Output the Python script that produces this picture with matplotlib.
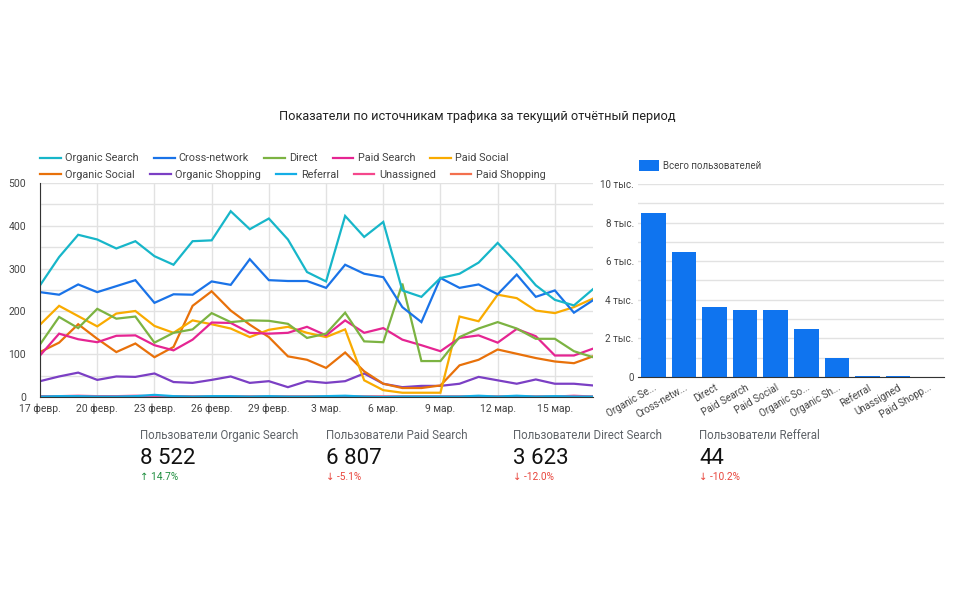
import numpy as np
import matplotlib
matplotlib.use("Agg")
from matplotlib import pyplot as plt
from matplotlib.ticker import MultipleLocator

plt.rcParams['font.family'] = ['Roboto', 'DejaVu Sans']

# ---- data ----
days = np.arange(30)  # 17 Feb .. 17 Mar
xtick_pos = [0, 3, 6, 9, 12, 15, 18, 21, 24, 27]
xtick_lbl = ['17 февр.', '20 февр.', '23 февр.', '26 февр.', '29 февр.',
             '3 мар.', '6 мар.', '9 мар.', '12 мар.', '15 мар.']

organic_search = [261, 327, 379, 368, 347, 364, 329, 309, 364, 366, 434, 392, 417, 368, 292,
                  270, 423, 374, 409, 249, 234, 278, 288, 314, 360, 313, 261, 227, 214, 252]
cross_network = [245, 239, 263, 245, 259, 273, 220, 240, 239, 270, 262, 322, 273, 271, 271,
                 255, 309, 288, 280, 210, 175, 278, 255, 263, 240, 286, 234, 249, 197, 226]
direct = [123, 187, 161, 206, 183, 188, 127, 150, 158, 196, 175, 179, 178, 171, 138,
          148, 197, 130, 128, 265, 84, 84, 140, 160, 175, 160, 136, 136, 107, 93]
paid_search = [97, 148, 135, 128, 143, 144, 121, 109, 134, 174, 173, 150, 148, 150, 164,
               144, 179, 150, 161, 134, 121, 107, 138, 144, 127, 159, 142, 97, 97, 113]
paid_social = [169, 213, 189, 165, 195, 201, 166, 150, 179, 170, 160, 140, 157, 164, 150,
               140, 158, 39, 16, 10, 10, 10, 188, 177, 239, 231, 202, 196, 210, 230]
organic_social = [105, 127, 170, 136, 105, 125, 93, 117, 213, 247, 202, 169, 140, 95, 87,
                  68, 104, 60, 31, 21, 21, 27, 74, 87, 111, 101, 91, 83, 79, 95]
organic_shopping = [37, 48, 57, 40, 48, 47, 55, 35, 33, 40, 48, 33, 37, 23, 37,
                    33, 37, 55, 31, 23, 26, 26, 31, 47, 39, 31, 41, 31, 31, 27]
referral = [1, 2, 2, 1, 1, 2, 5, 2, 1, 2, 2, 1, 2, 1, 1,
            2, 3, 1, 0, 1, 1, 1, 1, 3, 1, 3, 1, 2, 1, 1]
unassigned = [2, 2, 3, 2, 2, 3, 2, 2, 1, 1, 1, 1, 1, 1, 1,
              1, 1, 1, 1, 1, 1, 1, 1, 1, 1, 1, 1, 1, 3, 1]
paid_shopping = [1, 1, 2, 1, 1, 2, 1, 1, 1, 1, 1, 1, 1, 1, 1,
                 1, 1, 1, 1, 1, 1, 1, 1, 1, 1, 1, 1, 1, 1, 1]

bar_cats = ['Organic Se...', 'Cross-netw...', 'Direct', 'Paid Search', 'Paid Social',
            'Organic So...', 'Organic Sh...', 'Referral', 'Unassigned', 'Paid Shopp...']
bar_vals = [8522, 6500, 3623, 3450, 3450, 2500, 1000, 44, 30, 20]
bar_ticks = [0, 2000, 4000, 6000, 8000, 10000]
bar_tick_lbl = ['0', '2 тыс.', '4 тыс.', '6 тыс.', '8 тыс.', '10 тыс.']

kpi_titles = ['Пользователи Organic Search', 'Пользователи Paid Search',
              'Пользователи Direct Search', 'Пользователи Refferal']
kpi_values = ['8 522', '6 807', '3 623', '44']
kpi_delta = ['14.7%', '-5.1%', '-12.0%', '-10.2%']

series = [
    ('Organic Search', organic_search, '#17b6c9'),
    ('Cross-network', cross_network, '#1a73e8'),
    ('Direct', direct, '#7cb342'),
    ('Paid Search', paid_search, '#e52592'),
    ('Paid Social', paid_social, '#f9ab00'),
    ('Organic Social', organic_social, '#e8710a'),
    ('Organic Shopping', organic_shopping, '#7b3fc4'),
    ('Referral', referral, '#14aee6'),
    ('Unassigned', unassigned, '#f5478c'),
    ('Paid Shopping', paid_shopping, '#f3704e'),
]

grid_c = '#e2e2e2'
txt_c = '#444444'

fig = plt.figure(figsize=(9.58, 5.98), dpi=100)
fig.patch.set_facecolor('white')

fig.text(0.498, 0.806, 'Показатели по источникам трафика за текущий отчётный период',
         ha='center', va='center', fontsize=9.2, color='#222222')

# ---- line chart ----
ax = fig.add_axes([0.0418, 0.3361, 0.5772, 0.3579])
handles = {}
for name, vals, col in reversed(series):
    h, = ax.plot(days, vals, color=col, lw=1.6, label=name, solid_joinstyle='miter')
    handles[name] = h
ax.set_xlim(0, 29)
ax.set_ylim(0, 500)
ax.set_xticks(xtick_pos)
ax.set_xticklabels(xtick_lbl)
ax.yaxis.set_major_locator(MultipleLocator(100))
ax.yaxis.set_minor_locator(MultipleLocator(50))
ax.grid(True, which='both', axis='y', color=grid_c, lw=1)
ax.grid(True, which='major', axis='x', color=grid_c, lw=1)
ax.set_axisbelow(True)
for s in ['top', 'right']:
    ax.spines[s].set_visible(False)
ax.spines['left'].set_color('#333333')
ax.spines['bottom'].set_color('#333333')
ax.tick_params(which='both', length=0, labelsize=7.5, colors=txt_c)
ax.tick_params(axis='y', pad=10)
ax.tick_params(axis='x', pad=5)

# legend flows row by row, like the dashboard
rows = [['Organic Search', 'Cross-network', 'Direct', 'Paid Search', 'Paid Social'],
        ['Organic Social', 'Organic Shopping', 'Referral', 'Unassigned', 'Paid Shopping']]
for r, yy in zip(rows, [0.735, 0.708]):
    leg = fig.legend([handles[n] for n in r], r, ncol=5, loc='center left',
                     bbox_to_anchor=(0.042, yy), frameon=False, fontsize=7.8,
                     handlelength=1.9, handletextpad=0.4, columnspacing=1.4,
                     borderaxespad=0, borderpad=0)
    for t in leg.get_texts():
        t.set_color(txt_c)

# ---- bar chart ----
bx = fig.add_axes([0.666, 0.3696, 0.3194, 0.3227])
bars = bx.bar(range(len(bar_vals)), bar_vals, width=0.8, color='#0f74ef',
              label='Всего пользователей')
bx.set_xlim(-0.5, len(bar_vals) - 0.5)
bx.set_ylim(0, 10000)
bx.set_yticks(bar_ticks)
bx.set_yticklabels(bar_tick_lbl)
bx.yaxis.set_minor_locator(MultipleLocator(1000))
bx.grid(True, which='both', axis='y', color=grid_c, lw=1)
bx.set_axisbelow(True)
bx.set_xticks(range(len(bar_cats)))
bx.set_xticklabels(bar_cats, rotation=30, ha='right', rotation_mode='anchor')
for s in ['top', 'right', 'left']:
    bx.spines[s].set_visible(False)
bx.spines['bottom'].set_color('#333333')
bx.tick_params(which='both', length=0, labelsize=7.1, colors=txt_c)
bx.tick_params(axis='y', which='both', pad=3)
bx.tick_params(axis='x', pad=4)
bleg = bx.legend(loc='center left', bbox_to_anchor=(0.003, 1.095), frameon=False,
                 fontsize=7.0, handlelength=2.1, handleheight=1.3, handletextpad=0.4,
                 borderaxespad=0, borderpad=0)
for t in bleg.get_texts():
    t.set_color(txt_c)

# ---- KPI scorecards ----
kpi_x = [0.146, 0.340, 0.535, 0.730]
for x, title, val, d in zip(kpi_x, kpi_titles, kpi_values, kpi_delta):
    fig.text(x, 0.271, title, fontsize=8.3, color='#5f6368', va='center', ha='left')
    fig.text(x, 0.234, val, fontsize=16, color='#111111', va='center', ha='left')
    up = not d.startswith('-')
    fig.text(x, 0.202, ('↑ ' if up else '↓ ') + d, fontsize=7.3,
             color='#1e8e3e' if up else '#e8453c', va='center', ha='left',
             family=['Roboto', 'DejaVu Sans'])

fig.savefig('out.png', dpi=100, facecolor='white')
